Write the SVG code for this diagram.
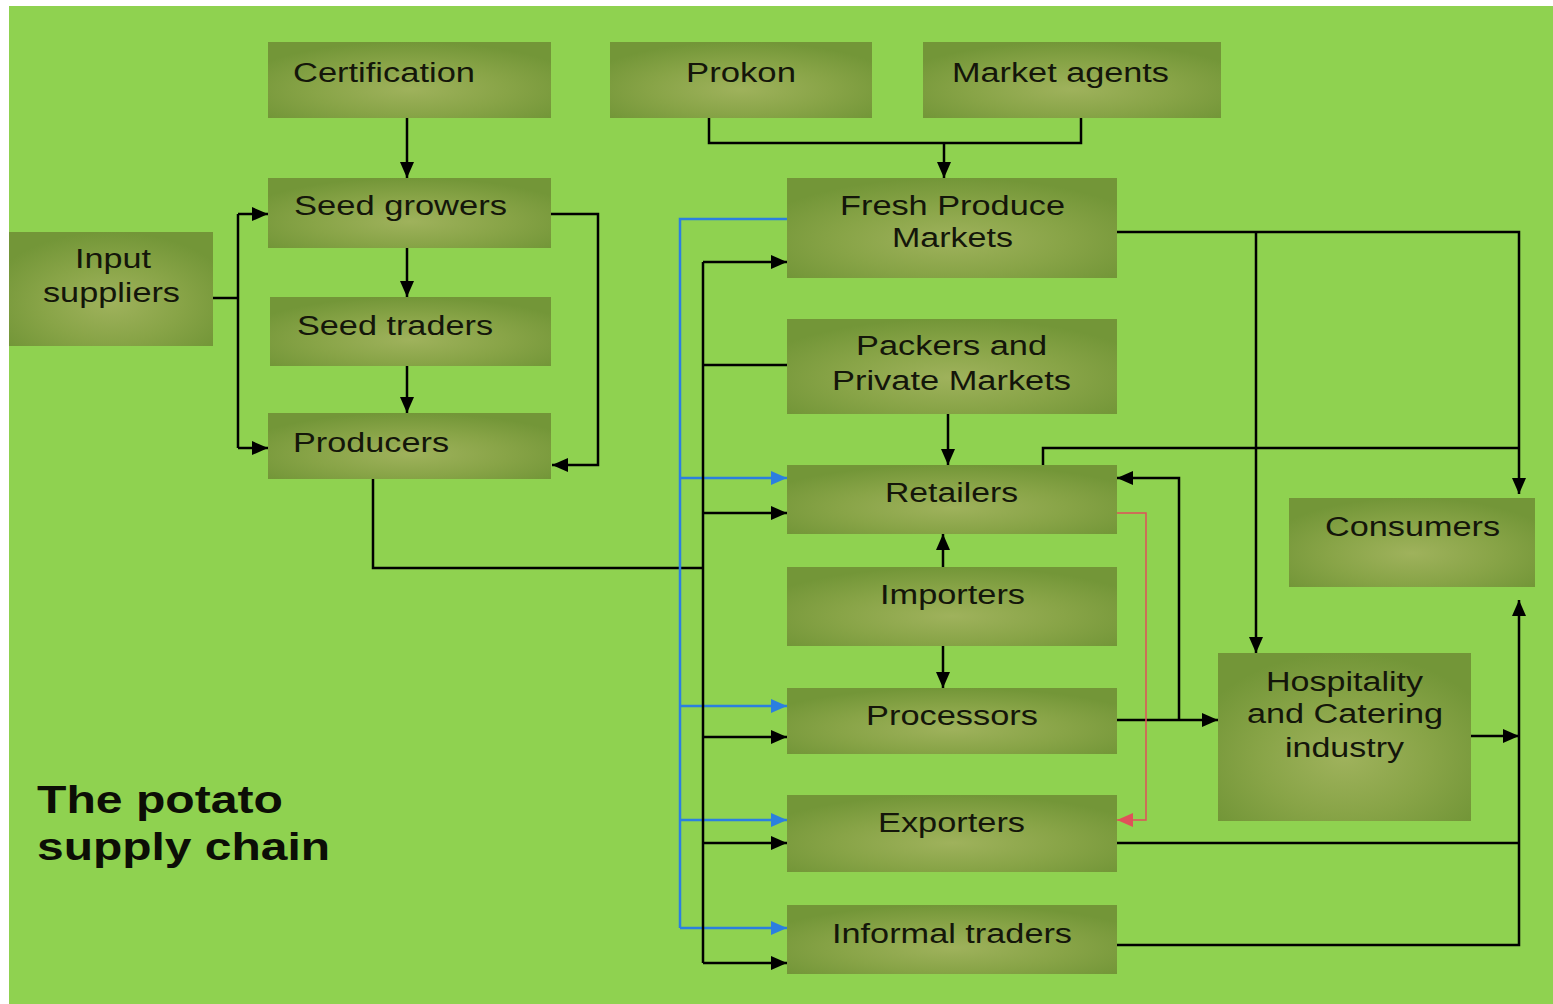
<svg xmlns="http://www.w3.org/2000/svg" width="1553" height="1004" viewBox="0 0 1553 1004">
<defs>
<radialGradient id="bx" cx="50%" cy="62%" r="62%">
<stop offset="0%" stop-color="#9fb25c"/>
<stop offset="55%" stop-color="#88a447"/>
<stop offset="100%" stop-color="#739638"/>
</radialGradient>
<marker id="ak" viewBox="0 0 16 14" refX="16" refY="7" markerWidth="16" markerHeight="14" markerUnits="userSpaceOnUse" orient="auto"><path d="M0,0 L16,7 L0,14 z" fill="#000"/></marker>
<marker id="ab" viewBox="0 0 16 14" refX="16" refY="7" markerWidth="16" markerHeight="14" markerUnits="userSpaceOnUse" orient="auto"><path d="M0,0 L16,7 L0,14 z" fill="#2b7fe0"/></marker>
<marker id="ar" viewBox="0 0 16 14" refX="16" refY="7" markerWidth="16" markerHeight="14" markerUnits="userSpaceOnUse" orient="auto"><path d="M0,0 L16,7 L0,14 z" fill="#e0505a"/></marker>
</defs>
<style>
.box{fill:url(#bx)}
.t{font-family:"Liberation Sans",Arial,sans-serif;font-size:27px;fill:#14160a}
.ttl{font-family:"Liberation Sans",Arial,sans-serif;font-size:38px;font-weight:bold;fill:#0c0e06}
.k{fill:none;stroke:#000;stroke-width:2.5}
.ka{fill:none;stroke:#000;stroke-width:2.5;marker-end:url(#ak)}
.b{fill:none;stroke:#2b7fe0;stroke-width:2.5}
.ba{fill:none;stroke:#2b7fe0;stroke-width:2.5;marker-end:url(#ab)}
.ra{fill:none;stroke:#e0505a;stroke-width:1.5;marker-end:url(#ar)}
</style>
<rect x="0" y="0" width="1553" height="1004" fill="#ffffff"/>
<rect x="9" y="6" width="1544" height="998" fill="#8fd250"/>

<g id="connectors">
<path class="ka" d="M407,118 V178"/>
<path class="ka" d="M407,248 V297"/>
<path class="ka" d="M407,366 V413"/>
<path class="k" d="M213,298 H238"/>
<path class="k" d="M238,214 V448"/>
<path class="ka" d="M238,214 H268"/>
<path class="ka" d="M238,448 H268"/>
<path class="ka" d="M551,214 H598 V465 H552"/>
<path class="k" d="M373,479 V568 H703"/>
<path class="b" d="M787,219 H680 V928"/>
<path class="ba" d="M680,478 H787"/>
<path class="ba" d="M680,706 H787"/>
<path class="ba" d="M680,820 H787"/>
<path class="ba" d="M680,928 H787"/>
<path class="k" d="M703,262 V963"/>
<path class="ka" d="M703,262 H787"/>
<path class="k" d="M703,365 H787"/>
<path class="ka" d="M703,513 H787"/>
<path class="ka" d="M703,737 H787"/>
<path class="ka" d="M703,843 H787"/>
<path class="ka" d="M703,963 H787"/>
<path class="k" d="M709,118 V143 H1081 V118"/>
<path class="ka" d="M944,143 V178"/>
<path class="ka" d="M948,414 V465"/>
<path class="ka" d="M943,567 V534"/>
<path class="ka" d="M943,646 V688"/>
<path class="ka" d="M1117,232 H1519 V494"/>
<path class="ka" d="M1256,232 V653"/>
<path class="k" d="M1043,465 V448 H1519"/>
<path class="ka" d="M1117,720 H1218"/>
<path class="ka" d="M1179,720 V478 H1117"/>
<path class="ra" d="M1117,513 H1146 V820 H1117"/>
<path class="ka" d="M1468,736 H1519"/>
<path class="k" d="M1117,843 H1519"/>
<path class="ka" d="M1117,945 H1519 V600"/>
</g>

<g id="certification"><rect class="box" x="268" y="42" width="283" height="76"/><text class="t" x="293" y="82" textLength="182" lengthAdjust="spacingAndGlyphs">Certification</text></g>
<g id="prokon"><rect class="box" x="610" y="42" width="262" height="76"/><text class="t" x="686" y="82" textLength="110" lengthAdjust="spacingAndGlyphs">Prokon</text></g>
<g id="market-agents"><rect class="box" x="923" y="42" width="298" height="76"/><text class="t" x="952" y="82" textLength="217" lengthAdjust="spacingAndGlyphs">Market agents</text></g>
<g id="seed-growers"><rect class="box" x="268" y="178" width="283" height="70"/><text class="t" x="294" y="215" textLength="213" lengthAdjust="spacingAndGlyphs">Seed growers</text></g>
<g id="input-suppliers"><rect class="box" x="9" y="232" width="204" height="114"/><text class="t" x="75" y="268" textLength="76" lengthAdjust="spacingAndGlyphs">Input</text><text class="t" x="43" y="302" textLength="137" lengthAdjust="spacingAndGlyphs">suppliers</text></g>
<g id="seed-traders"><rect class="box" x="270" y="297" width="281" height="69"/><text class="t" x="297" y="335" textLength="196" lengthAdjust="spacingAndGlyphs">Seed traders</text></g>
<g id="producers"><rect class="box" x="268" y="413" width="283" height="66"/><text class="t" x="293" y="452" textLength="156" lengthAdjust="spacingAndGlyphs">Producers</text></g>
<g id="fresh-produce-markets"><rect class="box" x="787" y="178" width="330" height="100"/><text class="t" x="840" y="215" textLength="225" lengthAdjust="spacingAndGlyphs">Fresh Produce</text><text class="t" x="892" y="247" textLength="121" lengthAdjust="spacingAndGlyphs">Markets</text></g>
<g id="packers"><rect class="box" x="787" y="319" width="330" height="95"/><text class="t" x="856" y="355" textLength="191" lengthAdjust="spacingAndGlyphs">Packers and</text><text class="t" x="832" y="390" textLength="239" lengthAdjust="spacingAndGlyphs">Private Markets</text></g>
<g id="retailers"><rect class="box" x="787" y="465" width="330" height="69"/><text class="t" x="885" y="502" textLength="133" lengthAdjust="spacingAndGlyphs">Retailers</text></g>
<g id="importers"><rect class="box" x="787" y="567" width="330" height="79"/><text class="t" x="880" y="604" textLength="145" lengthAdjust="spacingAndGlyphs">Importers</text></g>
<g id="processors"><rect class="box" x="787" y="688" width="330" height="66"/><text class="t" x="866" y="725" textLength="172" lengthAdjust="spacingAndGlyphs">Processors</text></g>
<g id="exporters"><rect class="box" x="787" y="795" width="330" height="77"/><text class="t" x="878" y="832" textLength="147" lengthAdjust="spacingAndGlyphs">Exporters</text></g>
<g id="informal-traders"><rect class="box" x="787" y="905" width="330" height="69"/><text class="t" x="832" y="943" textLength="240" lengthAdjust="spacingAndGlyphs">Informal traders</text></g>
<g id="consumers"><rect class="box" x="1289" y="498" width="246" height="89"/><text class="t" x="1325" y="536" textLength="175" lengthAdjust="spacingAndGlyphs">Consumers</text></g>
<g id="hospitality"><rect class="box" x="1218" y="653" width="253" height="168"/><text class="t" x="1266" y="691" textLength="157" lengthAdjust="spacingAndGlyphs">Hospitality</text><text class="t" x="1247" y="723" textLength="196" lengthAdjust="spacingAndGlyphs">and Catering</text><text class="t" x="1285" y="757" textLength="119" lengthAdjust="spacingAndGlyphs">industry</text></g>

<g id="title"><text class="ttl" x="37" y="813" textLength="246" lengthAdjust="spacingAndGlyphs">The potato</text><text class="ttl" x="37" y="860" textLength="293" lengthAdjust="spacingAndGlyphs">supply chain</text></g>
</svg>
